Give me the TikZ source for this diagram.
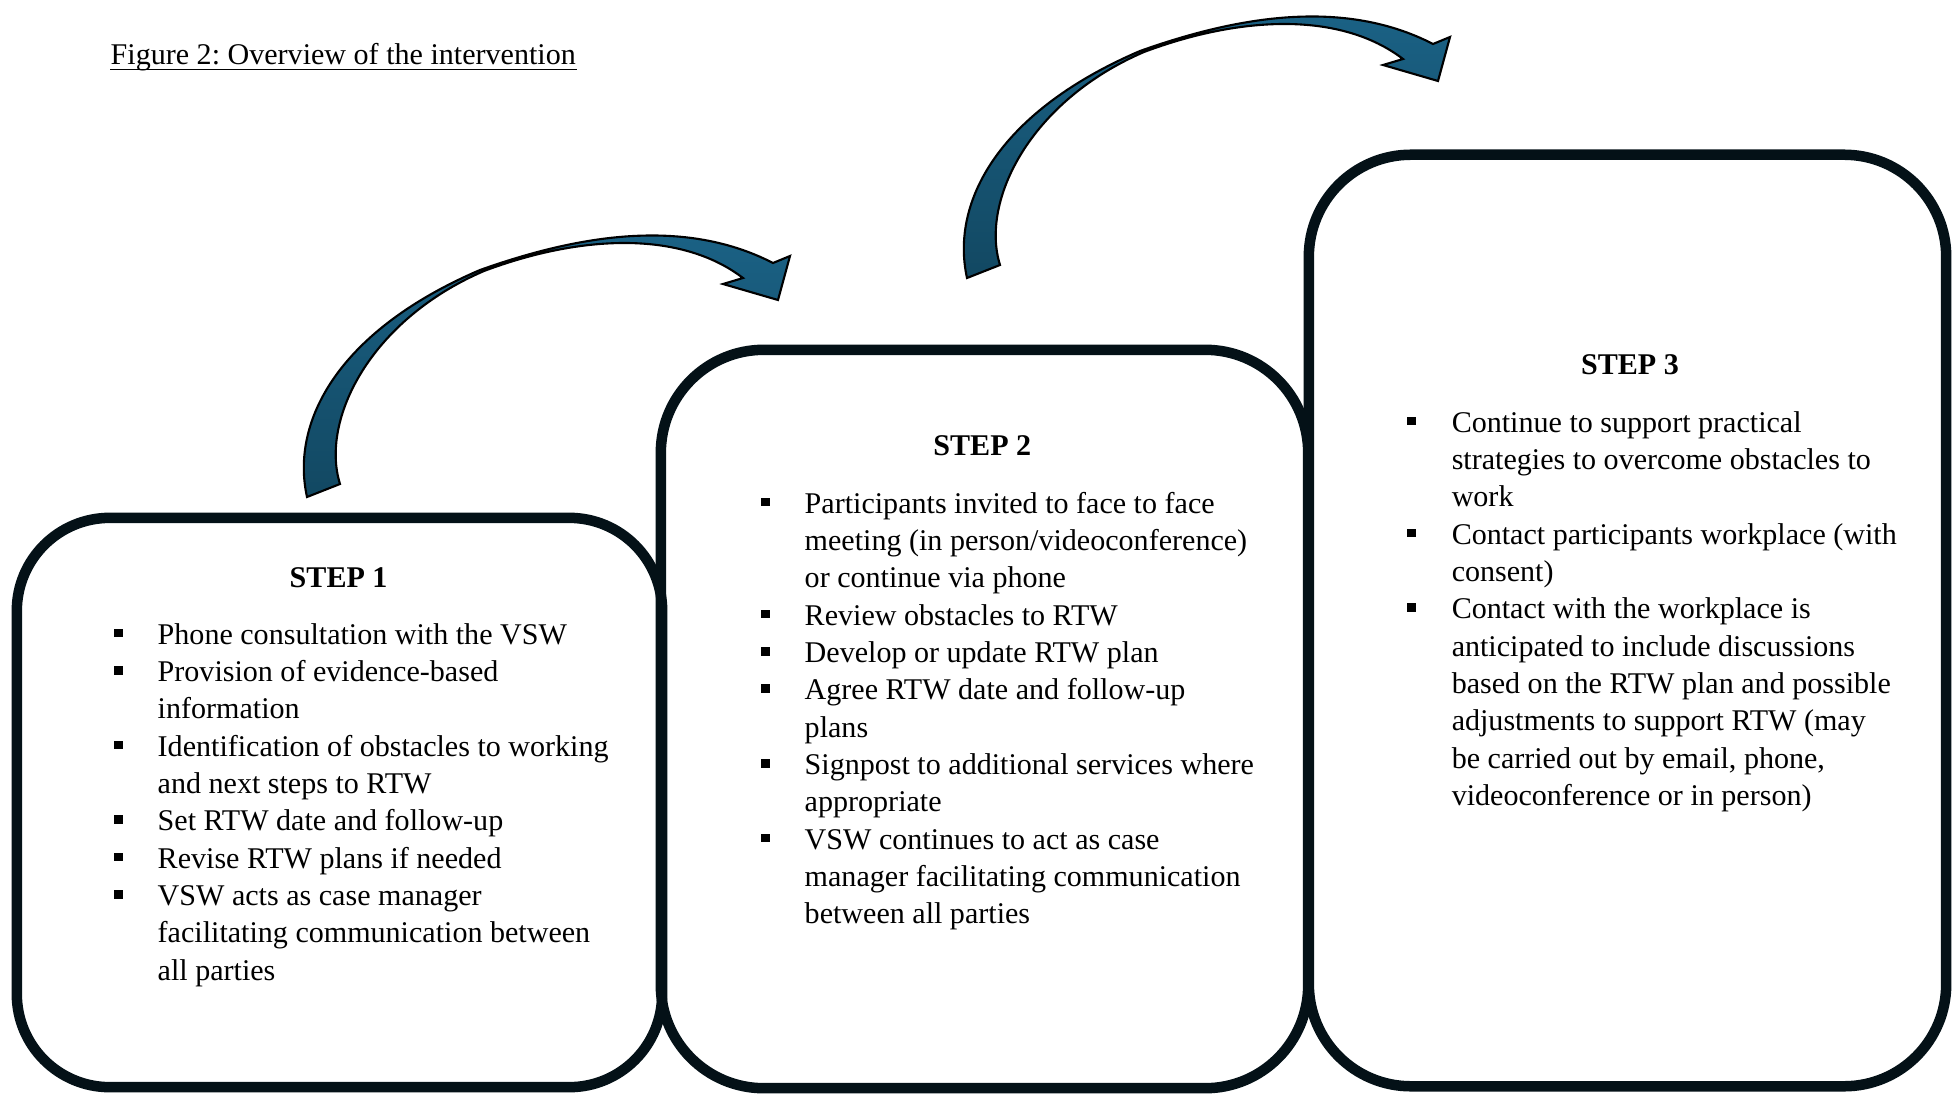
\documentclass[tikz,border=0pt]{standalone}
\usepackage{fontspec}
\setmainfont{Liberation Serif}
\usepackage{tikz}
\usepackage{color}
\frenchspacing

\definecolor{boxline}{RGB}{4,17,23}
\definecolor{arrowtop}{RGB}{27,99,135}
\definecolor{arrowbot}{RGB}{18,72,98}

\newcommand{\sqbullet}{\raisebox{0.0675cm}{\rule{0.09cm}{0.085cm}}}
\newcommand{\bodysize}{\fontsize{8.55pt}{10.62pt}\selectfont}

\begin{document}
\begin{tikzpicture}[x=0.01cm,y=-0.01cm,
  stepbox/.style={draw=boxline,line width=0.105cm,inner sep=0pt},
  steptitle/.style={font=\bodysize\bfseries,anchor=base,inner sep=0pt},
  steplist/.style={font=\bodysize,anchor=base west,inner sep=0pt},
  bentarrow/.style={draw=black,line width=0.6pt,top color=arrowtop,bottom color=arrowbot}]
\useasboundingbox (0,0) rectangle (1952,1094);
\node[font=\bodysize,anchor=base west,inner sep=0pt] (caption) at (110,65) {Figure 2: Overview of the intervention};
\draw[line width=0.5pt] ([yshift=-1.3pt]caption.base west) -- ([yshift=-1.3pt]caption.base east);
\node[stepbox,minimum width=6.45cm,minimum height=5.69cm,rounded corners=0.93cm] (box1) at (339.5,802.5) {};
\node[stepbox,minimum width=6.47cm,minimum height=7.38cm,rounded corners=1.03cm] (box2) at (984.5,719) {};
\node[stepbox,minimum width=6.37cm,minimum height=9.31cm,rounded corners=1.02cm] (box3) at (1627.5,620.5) {};
\foreach \dx/\dy in {0/0,660/-219}
  \draw[bentarrow,shift={(\dx,\dy)}] (307,497) .. controls (290,420) and (340,330) .. (480,270)
    .. controls (570,238) and (680,215) .. (773,263) -- (790,256) -- (778,300) -- (723,284) -- (743,278)
    .. controls (680,230) and (580,235) .. (484,271)
    .. controls (370,320) and (320,420) .. (340,484) -- cycle;
\node[steptitle] (title1) at (338.6,587) {STEP 1};
\node[steplist] (list1) at (113.5,644) {\begin{tabular}[t]{@{}p{0.435cm}@{}l@{}}
\sqbullet & Phone consultation with the VSW\\
\sqbullet & Provision of evidence-based\\
 & information\\
\sqbullet & Identification of obstacles to working\\
 & and next steps to RTW\\
\sqbullet & Set RTW date and follow-up\\
\sqbullet & Revise RTW plans if needed\\
\sqbullet & VSW acts as case manager\\
 & facilitating communication between\\
 & all parties
\end{tabular}};
\node[steptitle] (title2) at (982.3,455.7) {STEP 2};
\node[steplist] (list2) at (760.5,513) {\begin{tabular}[t]{@{}p{0.435cm}@{}l@{}}
\sqbullet & Participants invited to face to face\\
 & meeting (in person/videoconference)\\
 & or continue via phone\\
\sqbullet & Review obstacles to RTW\\
\sqbullet & Develop or update RTW plan\\
\sqbullet & Agree RTW date and follow-up\\
 & plans\\
\sqbullet & Signpost to additional services where\\
 & appropriate\\
\sqbullet & VSW continues to act as case\\
 & manager facilitating communication\\
 & between all parties
\end{tabular}};
\node[steptitle] (title3) at (1630,374.8) {STEP 3};
\node[steplist] (list3) at (1406.5,432) {\begin{tabular}[t]{@{}p{0.445cm}@{}l@{}}
\sqbullet & Continue to support practical\\
 & strategies to overcome obstacles to\\
 & work\\
\sqbullet & Contact participants workplace (with\\
 & consent)\\
\sqbullet & Contact with the workplace is\\
 & anticipated to include discussions\\
 & based on the RTW plan and possible\\
 & adjustments to support RTW (may\\
 & be carried out by email, phone,\\
 & videoconference or in person)
\end{tabular}};
\end{tikzpicture}
\end{document}
